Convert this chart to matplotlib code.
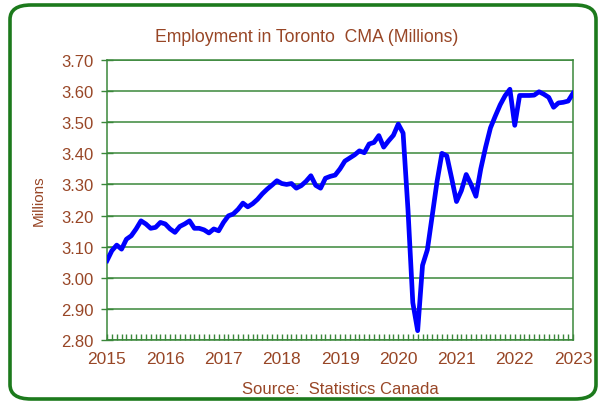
import numpy as np
import pandas as pd
import matplotlib
matplotlib.use("Agg")
from matplotlib import pyplot as plt
from matplotlib.patches import FancyBboxPatch
from matplotlib.ticker import MultipleLocator

# monthly employment, Toronto CMA (millions), Jan 2015 .. Jan 2023
employment = [
    3.055, 3.087, 3.105, 3.092, 3.124, 3.135, 3.157, 3.183, 3.173, 3.159, 3.162, 3.178,  # 2015
    3.173, 3.157, 3.146, 3.165, 3.173, 3.183, 3.159, 3.159, 3.154, 3.144, 3.157, 3.151,  # 2016
    3.178, 3.199, 3.205, 3.220, 3.240, 3.228, 3.238, 3.252, 3.270, 3.285, 3.298, 3.312,  # 2017
    3.303, 3.300, 3.303, 3.288, 3.296, 3.310, 3.328, 3.297, 3.288, 3.320, 3.326, 3.330,  # 2018
    3.350, 3.375, 3.385, 3.395, 3.408, 3.402, 3.430, 3.435, 3.457, 3.420, 3.440, 3.458,  # 2019
    3.494, 3.465, 3.220, 2.920, 2.830, 3.040, 3.090, 3.200, 3.310, 3.400, 3.392, 3.320,  # 2020
    3.245, 3.280, 3.332, 3.300, 3.262, 3.350, 3.420, 3.482, 3.520, 3.556, 3.585, 3.606,  # 2021
    3.490, 3.586, 3.586, 3.586, 3.587, 3.598, 3.590, 3.580, 3.548, 3.562, 3.564, 3.568,  # 2022
    3.593,  # 2023
]
years = list(range(2015, 2024))
yticks = [2.80, 2.90, 3.00, 3.10, 3.20, 3.30, 3.40, 3.50, 3.60, 3.70]

brown = "#984626"
green = "#3a873a"

t = 2015 + np.arange(len(employment)) / 12.0
df = pd.DataFrame({"t": t, "emp": employment})

plt.rcParams["font.family"] = ["Liberation Sans", "DejaVu Sans"]

fig = plt.figure(figsize=(6.02, 4.10), dpi=100)
fig.patch.set_facecolor("white")

# rounded green frame round the whole chart (behind the axes)
frame = FancyBboxPatch((10 / 602, 10 / 410), 586 / 602, 394 / 410,
                       boxstyle="round,pad=0,rounding_size=0.035",
                       transform=fig.transFigure, facecolor="none",
                       edgecolor="#1c7a1c", linewidth=2.6, zorder=-5)
fig.patches.append(frame)

ax = fig.add_axes([107 / 602, 1 - 341 / 410, 466 / 602, 280 / 410])
ax.set_facecolor("white")
ax.plot(df["t"], df["emp"], color="#0000ff", linewidth=3.4, solid_joinstyle="round", zorder=3)

ax.set_xlim(2015, 2023)
ax.set_ylim(2.80, 3.70)
ax.set_yticks(yticks)
ax.set_yticklabels(["%.2f" % v for v in yticks])
ax.set_xticks(years)
ax.set_xticklabels([str(y) for y in years])
ax.xaxis.set_minor_locator(MultipleLocator(1 / 12))

ax.grid(axis="y", color=green, linewidth=1.1)
for s in ax.spines.values():
    s.set_color(green)
    s.set_linewidth(1.1)

ax.tick_params(axis="y", which="major", direction="inout", length=9, width=1.0,
               color=green, labelcolor=brown, labelsize=12, pad=5)
ax.tick_params(axis="x", which="major", direction="in", length=4, width=1.0,
               color=green, labelcolor=brown, labelsize=12.5, pad=8)
ax.tick_params(axis="x", which="minor", direction="in", length=4, width=1.0, color=green)

fig.text(0.51, 1 - 38 / 410, "Employment in Toronto  CMA (Millions)",
         ha="center", va="center", color=brown, fontsize=12.7)
ax.set_ylabel("Millions", color=brown, fontsize=11, labelpad=11)
ax.set_xlabel("Source:  Statistics Canada", color=brown, fontsize=12, labelpad=11)

fig.savefig("out.png", dpi=100, facecolor="white")
